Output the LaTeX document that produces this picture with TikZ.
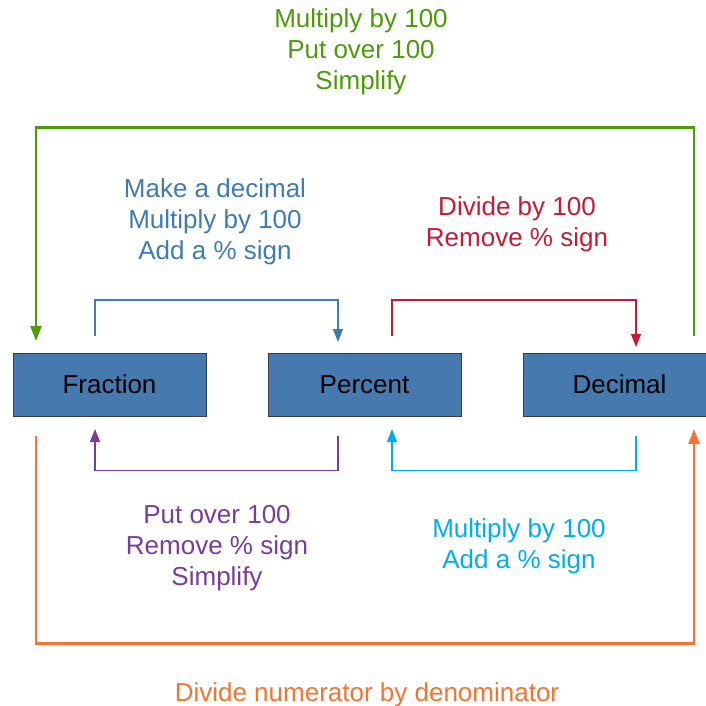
\documentclass[tikz,border=0pt]{standalone}
\usepackage{fontspec}
\setmainfont{Liberation Sans}
\usetikzlibrary{arrows.meta}
\definecolor{boxfill}{RGB}{70,121,174}
\definecolor{boxline}{RGB}{55,60,66}
\definecolor{cgreen}{RGB}{78,154,10}
\definecolor{cblue}{RGB}{64,124,178}
\definecolor{cred}{RGB}{196,28,52}
\definecolor{cpurple}{RGB}{120,62,152}
\definecolor{ccyan}{RGB}{0,174,239}
\definecolor{corange}{RGB}{244,117,50}
\begin{document}
\begin{tikzpicture}[x=1pt,y=-1pt,
  box/.style={draw=boxline,line width=1pt,fill=boxfill,minimum width=193pt,minimum height=63pt,
    inner sep=0pt,text height=18.5pt,text depth=0pt,font=\fontsize{26}{31}\selectfont},
  lbl/.style={align=center,inner sep=0pt,font=\fontsize{26}{31}\selectfont},
  thick link/.style={line width=2.2pt,-{Triangle[length=15pt,width=11pt]}},
  thin link/.style={line width=1.3pt,-{Triangle[length=13pt,width=10pt]}}]
\useasboundingbox (0,0) rectangle (706,706);
\fill[white] (0,0) rectangle (706,706);
% boxes
\node[box] (frac) at (109.5,384.5) {Fraction};
\node[box] (perc) at (364.5,384.5) {Percent};
\node[box] (dec) at (619.5,384.5) {Decimal};
% labels
\node[lbl,text=cgreen] (lg) at (361,52) {Multiply by 100\\Put over 100\\Simplify};
\node[lbl,text=cblue] (lb) at (215,222) {Make a decimal\\Multiply by 100\\Add a \% sign};
\node[lbl,text=cred] (lr) at (517,224) {Divide by 100\\Remove \% sign};
\node[lbl,text=cpurple] (lp) at (217,548) {Put over 100\\Remove \% sign\\Simplify};
\node[lbl,text=ccyan] (lc) at (519,546) {Multiply by 100\\Add a \% sign};
\node[lbl,text=corange] (lo) at (367,695) {Divide numerator by denominator};
% connector ends
\coordinate (gs) at (694,336);
\coordinate (ge) at (36,341);
\coordinate (bs) at (95,336);
\coordinate (be) at (338,342);
\coordinate (rs) at (392,336);
\coordinate (re) at (636,347);
\coordinate (ps) at (338,436);
\coordinate (pe) at (95,429);
\coordinate (cs) at (636,436);
\coordinate (ce) at (392,429);
\coordinate (os) at (36,436);
\coordinate (oe) at (694,429);
% connectors
\draw[thick link,cgreen] (gs) -- (694,127.5) -| (ge);
\draw[thin link,cblue] (bs) -- (95,300) -| (be);
\draw[thin link,cred] (rs) -- (392,300) -| (re);
\draw[thin link,cpurple] (ps) -- (338,470.5) -| (pe);
\draw[thin link,ccyan] (cs) -- (636,470.5) -| (ce);
\draw[thick link,corange] (os) -- (36,643.5) -| (oe);
\end{tikzpicture}
\end{document}
